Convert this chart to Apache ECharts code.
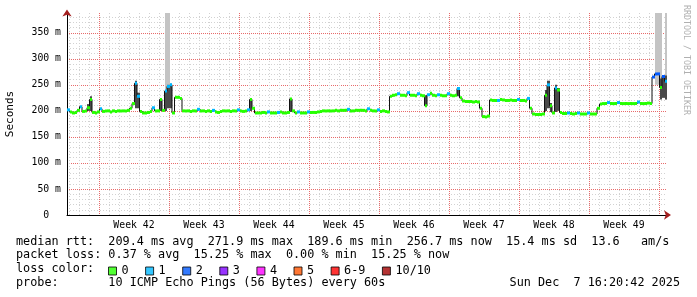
<!DOCTYPE html>
<html><head><meta charset="utf-8">
<script src="https://cdn.jsdelivr.net/npm/echarts@6/dist/echarts.min.js"></script>
<style>html,body{margin:0;padding:0;background:#fff}#c{width:697px;height:297px}</style>
</head><body><div id="c"></div>
<script>
// ---- data ----
const STEP = 0.25;            // days per sample (6 h)
const X_MAX = 60;             // days shown
const Y_MAX = 388;            // ms at top of plot
// median RTT (ms), one value per 6 h, oldest first
const medianMs = [
 202,198,196,197,201,208,199,200,206,222,197,196,198,204,199,200,200,198,200,199,
 200,200,200,200,201,205,214,253,228,199,196,196,197,199,206,200,200,222,201,238,
 247,250,196,226,226,224,200,200,200,199,200,200,203,200,200,199,200,199,201,198,
 197,199,200,200,200,199,200,200,202,200,199,200,202,222,205,196,196,196,197,196,
 198,196,196,196,197,198,196,196,197,223,200,196,198,196,196,196,198,197,197,197,
 198,199,200,200,200,200,200,201,200,201,201,201,203,200,200,201,201,201,201,200,
 204,201,200,200,202,199,200,199,198,228,230,231,233,230,230,229,235,230,230,229,
 233,230,229,210,231,234,230,229,231,230,229,229,233,230,229,230,243,225,219,218,
 218,218,217,218,217,205,189,188,190,221,220,220,220,222,221,220,220,221,220,220,
 222,220,220,219,224,205,194,193,193,193,194,230,250,210,196,244,240,197,195,195,
 196,195,194,195,196,194,194,194,196,194,194,194,205,213,214,214,216,214,214,214,
 216,214,214,214,214,214,214,214,217,214,214,214,215,214,265,271,271,245,266,257
];
// samples with 1/10 and 2/10 packet loss (others 0)
const loss1Idx = [0,5,13,27,28,34,39,40,41,52,58,68,72,80,84,92,96,112,120,124,132,136,140,144,148,152,156,172,180,184,192,195,200,204,208,216,220,228,239];
const loss2Idx = [234,235,236,238];
// dark smoke (ping spread) around spikes
const darkSmokeIdx = [8,9,27,28,37,39,40,41,73,89,143,156,191,192,193,195,196,237,238,239];
const darkSmokeLo  = [200,200,205,205,200,200,205,205,200,198,208,228,200,205,198,198,200,222,225,222];
const darkSmokeHi  = [213,228,258,235,224,240,250,252,224,224,230,245,240,258,215,250,244,262,268,268];
// light smoke (outliers)
const lightSmokeIdx = [39,40,235,236,237,239];
const lightSmokeLo  = [240,240,250,250,250,222];
const lightSmokeHi  = [392,392,392,392,392,392];
// labels
const weekLabels = ['Week 42','Week 43','Week 44','Week 45','Week 46','Week 47','Week 48','Week 49'];
const yTickValues = [0,50,100,150,200,250,300,350];
const lossLabels = ['0','1','2','3','4','5','6-9','10/10'];
const lossColors = ['#26ff00','#00b8ff','#0059ff','#7e00ff','#ff00ff','#ff5500','#ff0000','#a10000'];
const statLines = [
 'median rtt:  209.4 ms avg  271.9 ms max  189.6 ms min  256.7 ms now  15.4 ms sd  13.6   am/s',
 'packet loss: 0.37 % avg  15.25 % max  0.00 % min  15.25 % now',
 'loss color:',
 'probe:       10 ICMP Echo Pings (56 Bytes) every 60s'
];
const stamp = 'Sun Dec  7 16:20:42 2025';
const credit = 'RRDTOOL / TOBI OETIKER';

// ---- build ----
const FONT = 'DejaVu Sans Mono';
const TXT = 11.8;
const DAY_OFF = 0.2;           // first midnight after start
const WEEK_OFF = 3.2;          // first Monday after start
const dayLines = [], weekLines = [], weekCenters = [];
for (let d = DAY_OFF; d < X_MAX; d += 1) {
  const isWeek = Math.abs(((d - WEEK_OFF) % 7 + 7) % 7) < 1e-6;
  if (isWeek) weekLines.push(+d.toFixed(2)); else dayLines.push(+d.toFixed(2));
}
weekLabels.forEach((_, k) => weekCenters.push(+(WEEK_OFF + 3.5 + 7 * k).toFixed(2)));
const yMinor = [];
for (let v = 10; v < Y_MAX; v += 10) if (v % 50 !== 0) yMinor.push(v);

const lossCode = medianMs.map(() => 0);
loss1Idx.forEach(i => lossCode[i] = 1);
loss2Idx.forEach(i => lossCode[i] = 2);

const medianData = medianMs.map((v, i) => [i * STEP, v, lossCode[i]]);
const stepData = medianMs.map((v, i) => [i * STEP, v]);
stepData.push([medianMs.length * STEP, medianMs[medianMs.length - 1]]);
const darkData = darkSmokeIdx.map((i, k) => [i * STEP, darkSmokeLo[k], darkSmokeHi[k]]);
const lightData = lightSmokeIdx.map((i, k) => [i * STEP, lightSmokeLo[k], lightSmokeHi[k]]);

function smokeRender(color) {
  return function (params, api) {
    const t = api.value(0);
    const a = api.coord([t, api.value(2)]);
    const b = api.coord([t + STEP, api.value(1)]);
    const x0 = Math.round(a[0]), x1 = Math.round(b[0]);
    return { type: 'rect', shape: { x: x0, y: a[1], width: Math.max(1, x1 - x0), height: b[1] - a[1] },
             style: { fill: color } };
  };
}

const ARROW = '#a31f1f';
const MAJOR = '#e86a6a';
const MINOR = '#d2d2d2';
const option = {
  animation: false,
  backgroundColor: '#fff',
  grid: { left: 67, top: 13, width: 600, height: 202, outerBoundsMode: 'none', containLabel: false },
  xAxis: [
    { type: 'value', min: 0, max: X_MAX,
      axisLine: { show: true, onZero: false, lineStyle: { color: '#000', width: 1 } },
      axisTick: { show: false, customValues: dayLines },
      axisLabel: { customValues: weekCenters, margin: 5, color: '#000', fontFamily: FONT, fontSize: 9.8,
        formatter: v => weekLabels[Math.round((v - weekCenters[0]) / 7)] || '' },
      splitLine: { show: true, lineStyle: { color: MINOR, width: 1, type: [1, 2] } } },
    { type: 'value', min: 0, max: X_MAX, position: 'bottom',
      axisLine: { show: true, onZero: false, symbol: ['none', 'arrow'], symbolSize: [7, 7], symbolOffset: [0, 4],
        lineStyle: { color: ARROW, width: 0 } },
      axisTick: { show: false, customValues: weekLines },
      axisLabel: { show: false },
      splitLine: { show: true, lineStyle: { color: MAJOR, width: 1, type: [1, 1] } } }
  ],
  yAxis: [
    { type: 'value', min: 0, max: Y_MAX,
      name: 'Seconds', nameLocation: 'middle', nameGap: 51,
      nameTextStyle: { fontFamily: FONT, fontSize: 11, color: '#000' },
      axisLine: { show: true, lineStyle: { color: '#000', width: 1 } },
      axisTick: { show: false, customValues: yTickValues },
      axisLabel: { customValues: yTickValues, margin: 6, color: '#000', fontFamily: FONT, fontSize: 9.8,
        formatter: v => v === 0 ? '0  ' : v + ' m' },
      splitLine: { show: true, lineStyle: { color: MAJOR, width: 1, type: [1, 1] } } },
    { type: 'value', min: 0, max: Y_MAX, position: 'left', offset: 0,
      axisLine: { show: true, onZero: false, symbol: ['none', 'arrow'], symbolSize: [7, 7], symbolOffset: [0, 3.5],
        lineStyle: { color: ARROW, width: 0 } },
      axisTick: { show: false, customValues: yMinor },
      axisLabel: { show: false },
      splitLine: { show: true, lineStyle: { color: MINOR, width: 1, type: [1, 2] } } }
  ],
  legend: {
    left: 108, top: 265, padding: 0, itemWidth: 8, itemHeight: 8, itemGap: 16.5, icon: 'rect',
    selectedMode: false,
    itemStyle: { borderColor: '#000', borderWidth: 1 },
    textStyle: { fontFamily: FONT, fontSize: TXT, color: '#000' },
    data: lossLabels
  },
  graphic: [
    ...statLines.map((s, k) => ({ type: 'text', x: 16, y: 241.7 + 13.7 * k, silent: true,
      style: { text: s, fontFamily: FONT, fontSize: TXT, fill: '#000', textAlign: 'left', textVerticalAlign: 'middle' } })),
    { type: 'text', x: 680, y: 241.7 + 13.7 * 3, silent: true,
      style: { text: stamp, fontFamily: FONT, fontSize: TXT, fill: '#000', textAlign: 'right', textVerticalAlign: 'middle' } },
    { type: 'text', x: 686, y: 5, rotation: -Math.PI / 2, silent: true,
      style: { text: credit, fontFamily: FONT, fontSize: 8.3, fill: '#b0b0b0', textAlign: 'left', textVerticalAlign: 'middle' } }
  ],
  series: [
    { type: 'custom', name: 'light smoke', clip: true, z: 2, renderItem: smokeRender('#c4c4c4'),
      encode: { x: 0, y: [1, 2] }, data: lightData },
    { type: 'custom', name: 'dark smoke', clip: true, z: 3, renderItem: smokeRender('#4a4a4a'),
      encode: { x: 0, y: [1, 2] }, data: darkData },
    { type: 'line', name: 'step', z: 4, step: 'end', showSymbol: false, symbol: 'none',
      lineStyle: { color: '#111', width: 1 }, data: stepData, clip: true },
    { type: 'custom', name: 'median', clip: true, z: 5,
      renderItem: function (params, api) {
        const t = api.value(0), v = api.value(1), code = api.value(2);
        const a = api.coord([t, v]), b = api.coord([t + STEP, v]);
        const x0 = Math.round(a[0]), x1 = Math.round(b[0]);
        return { type: 'rect', shape: { x: x0, y: a[1] - 1.5, width: x1 - x0, height: 3 },
                 style: { fill: lossColors[code] } };
      },
      encode: { x: 0, y: 1 }, data: medianData },
    ...lossLabels.map((n, k) => ({ type: 'scatter', name: n, data: [], itemStyle: { color: lossColors[k] } }))
  ]
};
const chart = echarts.init(document.getElementById('c'), null, { renderer: 'canvas' });
chart.setOption(option);
</script></body></html>
